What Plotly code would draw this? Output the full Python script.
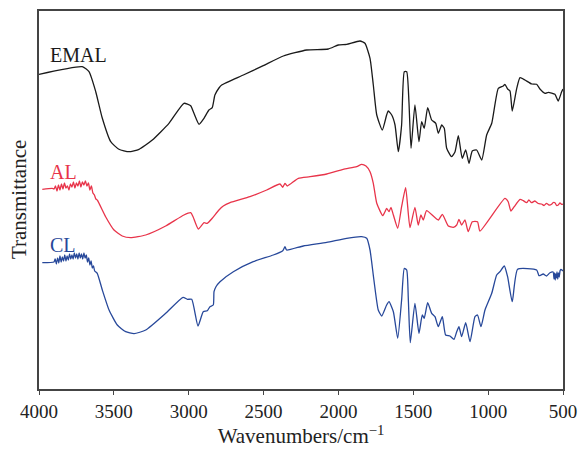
import plotly.graph_objects as go

# ---------------- data (wavenumber cm^-1, transmittance a.u.) ----------------
emal_w = [4000, 3711, 3666, 3621, 3577, 3521, 3466, 3399, 3332, 3243, 3132, 3032, 2987, 2965, 2931,
          2898, 2865, 2843, 2825, 2798, 2780, 2635, 2502, 2368, 2212, 2068, 2001, 1945, 1856, 1823,
          1789, 1767, 1744, 1707, 1678, 1667, 1644, 1622, 1600, 1578, 1560, 1544, 1529, 1515, 1489,
          1462, 1444, 1427, 1404, 1377, 1350, 1333, 1310, 1293, 1277, 1244, 1221, 1199, 1173, 1150,
          1128, 1106, 1077, 1043, 1010, 976, 932, 899, 888, 870, 854, 839, 809, 787, 754, 709, 676,
          654, 620, 598, 554, 532, 509, 500]
emal_t = [314.7, 322.3, 317.3, 297.3, 270.7, 247.3, 239.7, 237.3, 239.7, 249, 265.7, 285.7, 283.3, 275.7, 264.7,
          270.7, 279, 281.3, 294, 301, 304, 314, 323.3, 333, 339, 340, 344, 344.7, 348, 345.7,
          330.7, 304, 274, 259, 274, 278, 274, 264, 237.3, 264, 317.3, 317.3, 287.3, 240.7, 284,
          247.3, 267.3, 260.7, 281.3, 269, 265.7, 255.7, 264, 260.7, 240.7, 232.3, 237.3, 253.3, 230.7, 239,
          225.7, 238, 239, 229, 254, 265.7, 300.7, 303, 304.7, 300, 298, 278, 300.7, 311.3, 309, 305, 304.7,
          300, 295.7, 296.7, 294.7, 288, 297.3, 300]

al_w = [3978, 3911, 3900, 3890, 3880, 3870, 3860, 3850, 3840, 3830, 3820, 3810, 3800, 3790, 3780,
        3770, 3760, 3750, 3740, 3730, 3720, 3710, 3700, 3690, 3680, 3670, 3660, 3650, 3640, 3630,
        3620, 3611, 3555, 3499, 3444, 3388, 3287, 3154, 3032, 2987, 2971, 2936, 2898, 2876, 2843,
        2798, 2769, 2724, 2591, 2479, 2390, 2372, 2357, 2342, 2268, 2190, 2078, 1968, 1878, 1845,
        1816, 1789, 1767, 1744, 1704, 1690, 1678, 1662, 1649, 1633, 1604, 1578, 1551, 1522, 1489,
        1467, 1449, 1433, 1411, 1333, 1306, 1266, 1233, 1210, 1195, 1177, 1155, 1133, 1106, 1071,
        1055, 888, 866, 848, 826, 787, 765, 743, 728, 710, 688, 665, 643, 627, 610, 593, 576, 565,
        554, 543, 532, 520, 509, 500]
al_t = [199.7, 200.7, 200, 203, 198, 204, 199, 205, 200, 206, 201, 203, 199, 205, 202,
        207, 201, 206, 203, 208, 202, 207, 204, 208, 203, 206, 199, 203, 196, 194,
        190, 189, 172.3, 159, 153, 151.3, 154, 163, 174, 176.3, 172.3, 160, 166.3, 165.7, 170.7,
        179, 183, 186.3, 192.3, 199, 205, 201.7, 205.7, 203, 210.7, 212.3, 215, 219.7, 222.3, 224.7,
        223, 217.3, 205.7, 185.7, 173.3, 177, 180.7, 177.3, 181.7, 174, 160.7, 182.3, 201.3, 161.3, 181.7,
        164, 174, 169, 178.3, 169, 174.7, 163, 161.7, 164, 169.7, 164, 169, 157.3, 167.3, 167.3,
        158, 190.7, 187.3, 178, 182.3, 189.7, 188.3, 186.3, 189, 186.3, 188, 185.5, 185, 183.5, 185.7, 184, 184.7, 186.5,
        186.3, 183.5, 184, 186, 184.7, 185]

cl_w = [3978, 3900, 3892, 3884, 3876, 3868, 3860, 3852, 3844, 3836, 3828, 3820, 3812, 3804, 3796,
        3788, 3780, 3772, 3764, 3756, 3748, 3740, 3732, 3724, 3716, 3708, 3700, 3692, 3684, 3676,
        3668, 3660, 3652, 3644, 3636, 3628, 3611, 3577, 3532, 3477, 3421, 3365, 3287, 3154, 3038,
        3009, 2980, 2938, 2903, 2876, 2858, 2836, 2831, 2818, 2791, 2702, 2569, 2435, 2372, 2357,
        2346, 2235, 2078, 1945, 1845, 1811, 1789, 1763, 1734, 1711, 1678, 1662, 1633, 1604, 1578,
        1560, 1544, 1533, 1520, 1489, 1462, 1440, 1427, 1404, 1377, 1355, 1333, 1306, 1284, 1255,
        1228, 1210, 1195, 1177, 1150, 1121, 1088, 1071, 1048, 1021, 976, 943, 921, 892, 870,
        839, 803, 676, 660, 632, 610, 587, 566, 560, 556, 552, 548, 544, 540, 535, 530, 525,
        520, 514, 500]
cl_t = [126.3, 127, 130, 125, 131, 126, 133, 127, 132, 128, 134, 128, 133, 129, 135,
        130, 134, 130, 136, 131, 135, 130, 136, 131, 135, 130, 136, 131, 134, 127,
        131, 124, 128, 121, 123, 118, 115.7, 99, 79, 64, 57.3, 55.3, 59, 75.7, 91.7,
        89.7, 89.7, 63, 77.3, 78.3, 82.3, 84, 97.3, 102.3, 107.3, 117.3, 127.3, 134, 138.3, 142.3,
        139, 143, 146.7, 150.7, 152.3, 150.7, 139, 109, 79, 73, 84, 87.3, 77.3, 50.7, 89,
        120.7, 119, 89, 46.3, 85.7, 55.7, 74, 70.7, 86.3, 75.7, 72.3, 62.3, 72.3, 54, 53,
        49.7, 57.3, 62.3, 52.3, 66.3, 47.3, 72.3, 74, 62.3, 79, 95.7, 114, 117.3, 123, 112.3,
        87.3, 119.7, 119, 113.3, 115, 113, 116.3, 117, 110, 116, 109, 115, 111, 117, 110, 116, 112,
        118, 119.7, 118]

series_names = ["EMAL", "AL", "CL"]
series_colors = ["#1a1a1a", "#e8344a", "#27489a"]

FONT = "Liberation Serif"

fig = go.Figure()
for name, xs, ys, col in zip(series_names, [emal_w, al_w, cl_w], [emal_t, al_t, cl_t], series_colors):
    fig.add_trace(go.Scatter(x=xs, y=ys, mode="lines", name=name,
                             line=dict(color=col, width=1.3, shape="spline", smoothing=0.5),
                             showlegend=False, hoverinfo="skip"))

label_pos = {"EMAL": 0.884, "AL": 0.573, "CL": 0.381}
for name, col in zip(series_names, series_colors):
    fig.add_annotation(text=name, xref="paper", yref="paper", x=0.017, y=label_pos[name],
                       xanchor="left", yanchor="middle", showarrow=False,
                       font=dict(family=FONT, size=20, color=col))

fig.add_annotation(text="Transmittance", xref="paper", yref="paper", x=-0.038, y=0.5,
                   xanchor="center", yanchor="middle", textangle=-90, showarrow=False,
                   font=dict(family=FONT, size=21, color="#222"))

fig.update_layout(
    width=578, height=451,
    margin=dict(l=39, r=15, t=11, b=62),
    paper_bgcolor="white", plot_bgcolor="white",
    font=dict(family=FONT, size=19, color="#222"),
    xaxis=dict(range=[4000, 500], tickvals=[4000, 3500, 3000, 2500, 2000, 1500, 1000, 500],
               ticks="outside", ticklen=4, tickwidth=1.3, tickcolor="#444",
               showline=True, linecolor="#444", linewidth=1.5, mirror=True,
               showgrid=False, zeroline=False, automargin=False,
               title=dict(text="Wavenumbers/cm<sup>−1</sup>", font=dict(size=21), standoff=2)),
    yaxis=dict(range=[0, 378], showticklabels=False, ticks="",
               showline=True, linecolor="#444", linewidth=1.5, mirror=True,
               showgrid=False, zeroline=False, automargin=False),
)

# remove the default page margin so the 578x451 figure fills the window exactly
fig.write_html("out.html", config={"displayModeBar": False},
               post_script="document.body.style.margin='0';document.body.style.overflow='hidden';")
